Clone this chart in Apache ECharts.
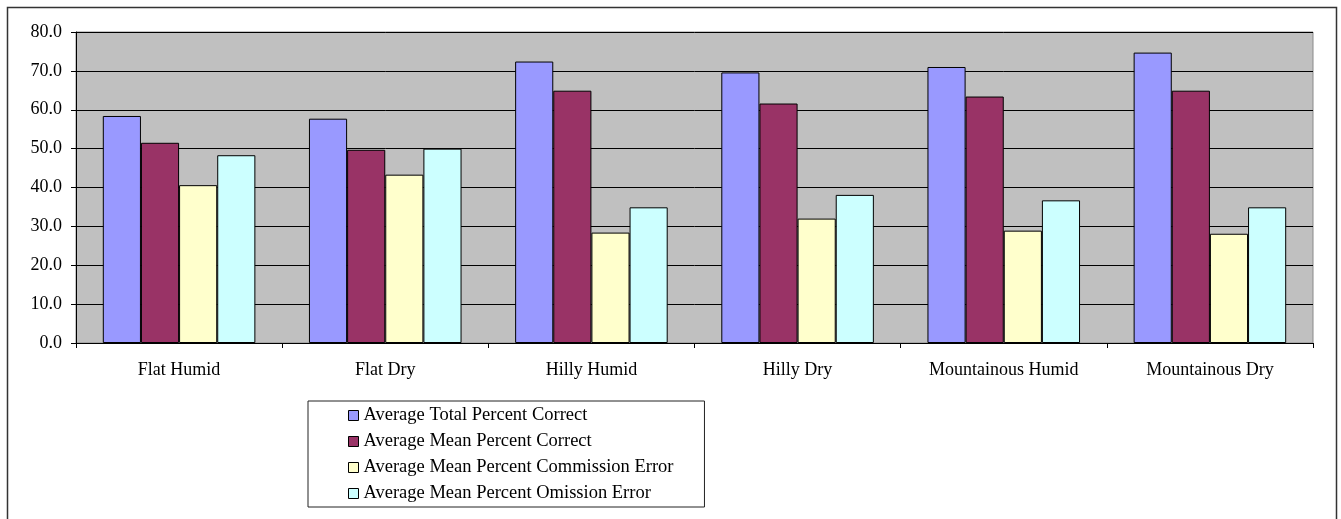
<!DOCTYPE html>
<html>
<head>
<meta charset="utf-8">
<script src="https://cdn.jsdelivr.net/npm/echarts@6/dist/echarts.min.js"></script>
<style>
  html, body { margin: 0; padding: 0; background: #fff; }
  #chart { width: 1341px; height: 519px; }
</style>
</head>
<body>
<div id="chart"></div>
<script>
// Terrain categories along the x axis
const categories = ['Flat Humid', 'Flat Dry', 'Hilly Humid', 'Hilly Dry', 'Mountainous Humid', 'Mountainous Dry'];

// Series values (percent)
const totalCorrect     = [58.4, 57.7, 72.4, 69.6, 71.0, 74.7];
const meanCorrect      = [51.5, 49.7, 64.9, 61.6, 63.4, 64.9];
const commissionError  = [40.6, 43.3, 28.4, 32.0, 28.9, 28.1];
const omissionError    = [48.3, 50.0, 34.9, 38.1, 36.7, 34.9];

const seriesNames = [
  'Average Total Percent Correct',
  'Average Mean Percent Correct',
  'Average Mean Percent Commission Error',
  'Average Mean Percent Omission Error'
];
const seriesColors = ['#9999FF', '#993366', '#FFFFCC', '#CCFFFF'];
const seriesData = [totalCorrect, meanCorrect, commissionError, omissionError];

const font = '"Liberation Serif", "Times New Roman", serif';

const chart = echarts.init(document.getElementById('chart'), null, { renderer: 'canvas' });

chart.setOption({
  backgroundColor: '#ffffff',
  animation: false,
  textStyle: { fontFamily: font },
  graphic: [{
    type: 'rect',
    shape: { x: 7.5, y: 7.5, width: 1329, height: 530 },
    style: { fill: 'none', stroke: '#333333', lineWidth: 1.5 },
    silent: true
  }],
  grid: {
    left: 76, right: 28, top: 32, bottom: 176,
    show: true,
    backgroundColor: '#C0C0C0',
    borderColor: '#8a8a8a',
    borderWidth: 1
  },
  legend: {
    orient: 'vertical',
    left: 308, top: 401,
    padding: [5, 31, 4, 40],
    itemWidth: 10, itemHeight: 10, itemGap: 7,
    borderColor: '#222', borderWidth: 1,
    icon: 'rect',
    textStyle: { fontFamily: font, fontSize: 18.5, color: '#000' },
    itemStyle: { borderColor: '#000', borderWidth: 1 },
    data: seriesNames
  },
  xAxis: {
    type: 'category',
    data: categories,
    axisLine: { lineStyle: { color: '#000', width: 1 } },
    axisTick: { show: true, length: 5, lineStyle: { color: '#000' } },
    axisLabel: { fontFamily: font, fontSize: 18, color: '#000', margin: 18 },
    splitLine: { show: false }
  },
  yAxis: {
    type: 'value',
    min: 0, max: 80, interval: 10,
    axisLine: { show: true, lineStyle: { color: '#000', width: 1 } },
    axisTick: { show: true, length: 5, lineStyle: { color: '#000' } },
    axisLabel: {
      fontFamily: font, fontSize: 18, color: '#000', margin: 14,
      formatter: v => v.toFixed(1)
    },
    splitLine: { show: true, lineStyle: { color: '#000', width: 1 } }
  },
  series: seriesNames.map((name, i) => ({
    name,
    type: 'bar',
    data: seriesData[i],
    barGap: '0%',
    barCategoryGap: '26%',
    itemStyle: { color: seriesColors[i], borderColor: '#000', borderWidth: 1 }
  }))
});
</script>
</body>
</html>
